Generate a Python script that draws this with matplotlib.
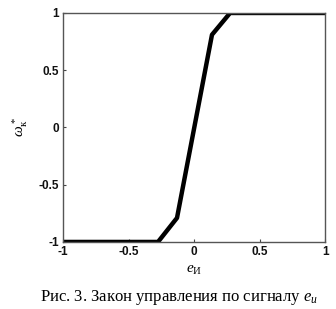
import numpy as np
import matplotlib.pyplot as plt

plt.rcParams['mathtext.fontset'] = 'custom'
plt.rcParams['mathtext.rm'] = 'Liberation Serif'
plt.rcParams['mathtext.it'] = 'Liberation Serif:italic'

# control law: error signal -> reference speed
e_u = [-1.0, -0.275, -0.13, 0.137, 0.275, 1.0]
w_k = [-1.0, -1.0, -0.79, 0.81, 1.0, 1.0]

xticks = [-1, -0.5, 0, 0.5, 1]
yticks = [-1, -0.5, 0, 0.5, 1]

fig = plt.figure(figsize=(3.36, 3.09), dpi=100)
ax = fig.add_axes([0.1875, 0.217, 0.78, 0.741])

ax.plot(e_u, w_k, color='black', linewidth=3.2, solid_capstyle='butt')
ax.set_xlim(-1, 1)
ax.set_ylim(-1, 1)
ax.set_xticks(xticks)
ax.set_yticks(yticks)
ax.set_xticklabels(['-1', '-0.5', '0', '0.5', '1'])
ax.set_yticklabels(['-1', '-0.5', '0', '0.5', '1'])
ax.tick_params(direction='in', length=2, width=0.8, colors='#444444',
               labelsize=8.5, pad=3)
for lbl in ax.get_xticklabels() + ax.get_yticklabels():
    lbl.set_family('Liberation Sans')
    lbl.set_color('#111111')
    lbl.set_fontweight('bold')
for s in ax.spines.values():
    s.set_color('#555555')
    s.set_linewidth(1.0)

ax.set_xlabel(r'$e_{\mathrm{И}}$', fontsize=11, labelpad=3)
ax.set_ylabel(r'$\omega^*_{\mathrm{к}}$', fontsize=11, labelpad=6, rotation=90,
              family='Liberation Sans')

fig.text(40 / 336, 0.008, r'Рис. 3. Закон управления по сигналу $e_{и}$',
         fontsize=12, family='Liberation Serif', ha='left', va='bottom')

fig.savefig('out.png', dpi=100)
